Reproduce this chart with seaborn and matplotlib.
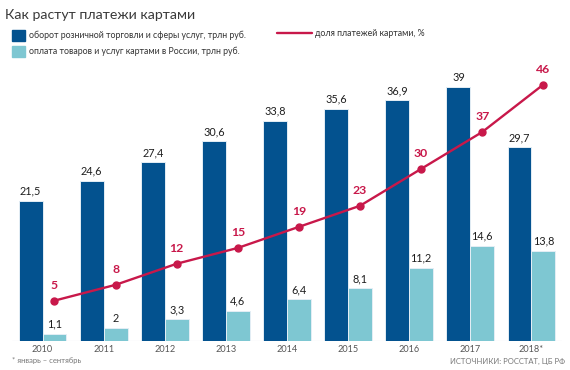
import numpy as np
import pandas as pd
import matplotlib
matplotlib.use("Agg")
import matplotlib.pyplot as plt
from matplotlib.patches import Rectangle
from matplotlib.lines import Line2D
import seaborn as sns

years = ["2010", "2011", "2012", "2013", "2014", "2015", "2016", "2017", "2018*"]
turnover = [21.5, 24.6, 27.4, 30.6, 33.8, 35.6, 36.9, 39, 29.7]
card_payments = [1.1, 2, 3.3, 4.6, 6.4, 8.1, 11.2, 14.6, 13.8]
card_share = [5, 8, 12, 15, 19, 23, 30, 37, 46]

s_turn = "оборот розничной торговли и сферы услуг, трлн руб."
s_card = "оплата товаров и услуг картами в России, трлн руб."
s_share = "доля платежей картами, %"
title = "Как растут платежи картами"
footnote = "* январь – сентябрь"
source = "ИСТОЧНИКИ: РОССТАТ, ЦБ РФ"

DARK = "#03528f"
LIGHT = "#7ec7d2"
RED = "#c8184a"

sns.set_theme(style="white")
plt.rcParams["font.family"] = ["Lato", "DejaVu Sans"]

df = pd.DataFrame({
    "year": years * 2,
    "value": turnover + card_payments,
    "series": [s_turn] * len(years) + [s_card] * len(years),
})

W, H = 570, 370
fig = plt.figure(figsize=(W / 100, H / 100), dpi=100)
ax = fig.add_axes([12 / W, 29 / H, 550 / W, 281 / H])

sns.barplot(data=df, x="year", y="value", hue="series", order=years,
            hue_order=[s_turn, s_card], palette=[DARK, LIGHT], width=0.78,
            saturation=1, edgecolor="#e4eef5", linewidth=0.7, ax=ax,
            legend=False)
ax.set_xlim(-0.5, len(years) - 0.5)
ax.set_ylim(0, 43.1)


def fmt(v):
    return str(int(v)) if float(v).is_integer() else f"{v}".replace(".", ",")


for cont, vals in zip(ax.containers, [turnover, card_payments]):
    ax.bar_label(cont, labels=[fmt(v) for v in vals], padding=3,
                 fontsize=7.8, color="#1e1e1e")

ax.axhline(0, color="#cfd6dc", lw=0.8, zorder=0)
for s in ax.spines.values():
    s.set_visible(False)
ax.set_yticks([])
ax.set_xlabel("")
ax.set_ylabel("")
ax.tick_params(axis="x", length=0, pad=3, labelsize=6.6, labelcolor="#555555")

ax2 = ax.twinx()
xs = np.arange(len(years)) + 0.195
ax2.plot(xs, card_share, color=RED, lw=1.7, marker="o", ms=5, zorder=5)
ax2.set_ylim(-2.66, 50.66)
for x, v in zip(xs, card_share):
    ax2.annotate(fmt(v), (x, v), xytext=(0, 7), textcoords="offset points",
                 ha="center", va="bottom", fontsize=8.8, fontweight="bold",
                 color=RED)
ax2.set_yticks([])
for s in ax2.spines.values():
    s.set_visible(False)


def fy(px):
    return 1 - px / H


fig.text(5 / W, fy(15), title, fontsize=10.2, color="#3a3a3a",
         va="center", ha="left")
fig.patches.append(Rectangle((12 / W, fy(41)), 13 / W, 11 / H,
                             transform=fig.transFigure, color=DARK))
fig.patches.append(Rectangle((12 / W, fy(57)), 13 / W, 11 / H,
                             transform=fig.transFigure, color=LIGHT))
fig.text(29 / W, fy(35.5), s_turn, fontsize=6.3, color="#333333", va="center")
fig.text(29 / W, fy(51.5), s_card, fontsize=6.3, color="#333333", va="center")
fig.lines.append(Line2D([277 / W, 312 / W], [fy(32.5), fy(32.5)],
                        transform=fig.transFigure, color=RED, lw=1.7))
fig.text(315 / W, fy(33), s_share, fontsize=6.3, color="#333333", va="center")

fig.text(12 / W, fy(361), footnote, fontsize=5.5, color="#777777", va="center")
fig.text(565 / W, fy(361), source, fontsize=5.5, color="#777777",
         va="center", ha="right")

fig.savefig("out.png", dpi=100, facecolor="white")
